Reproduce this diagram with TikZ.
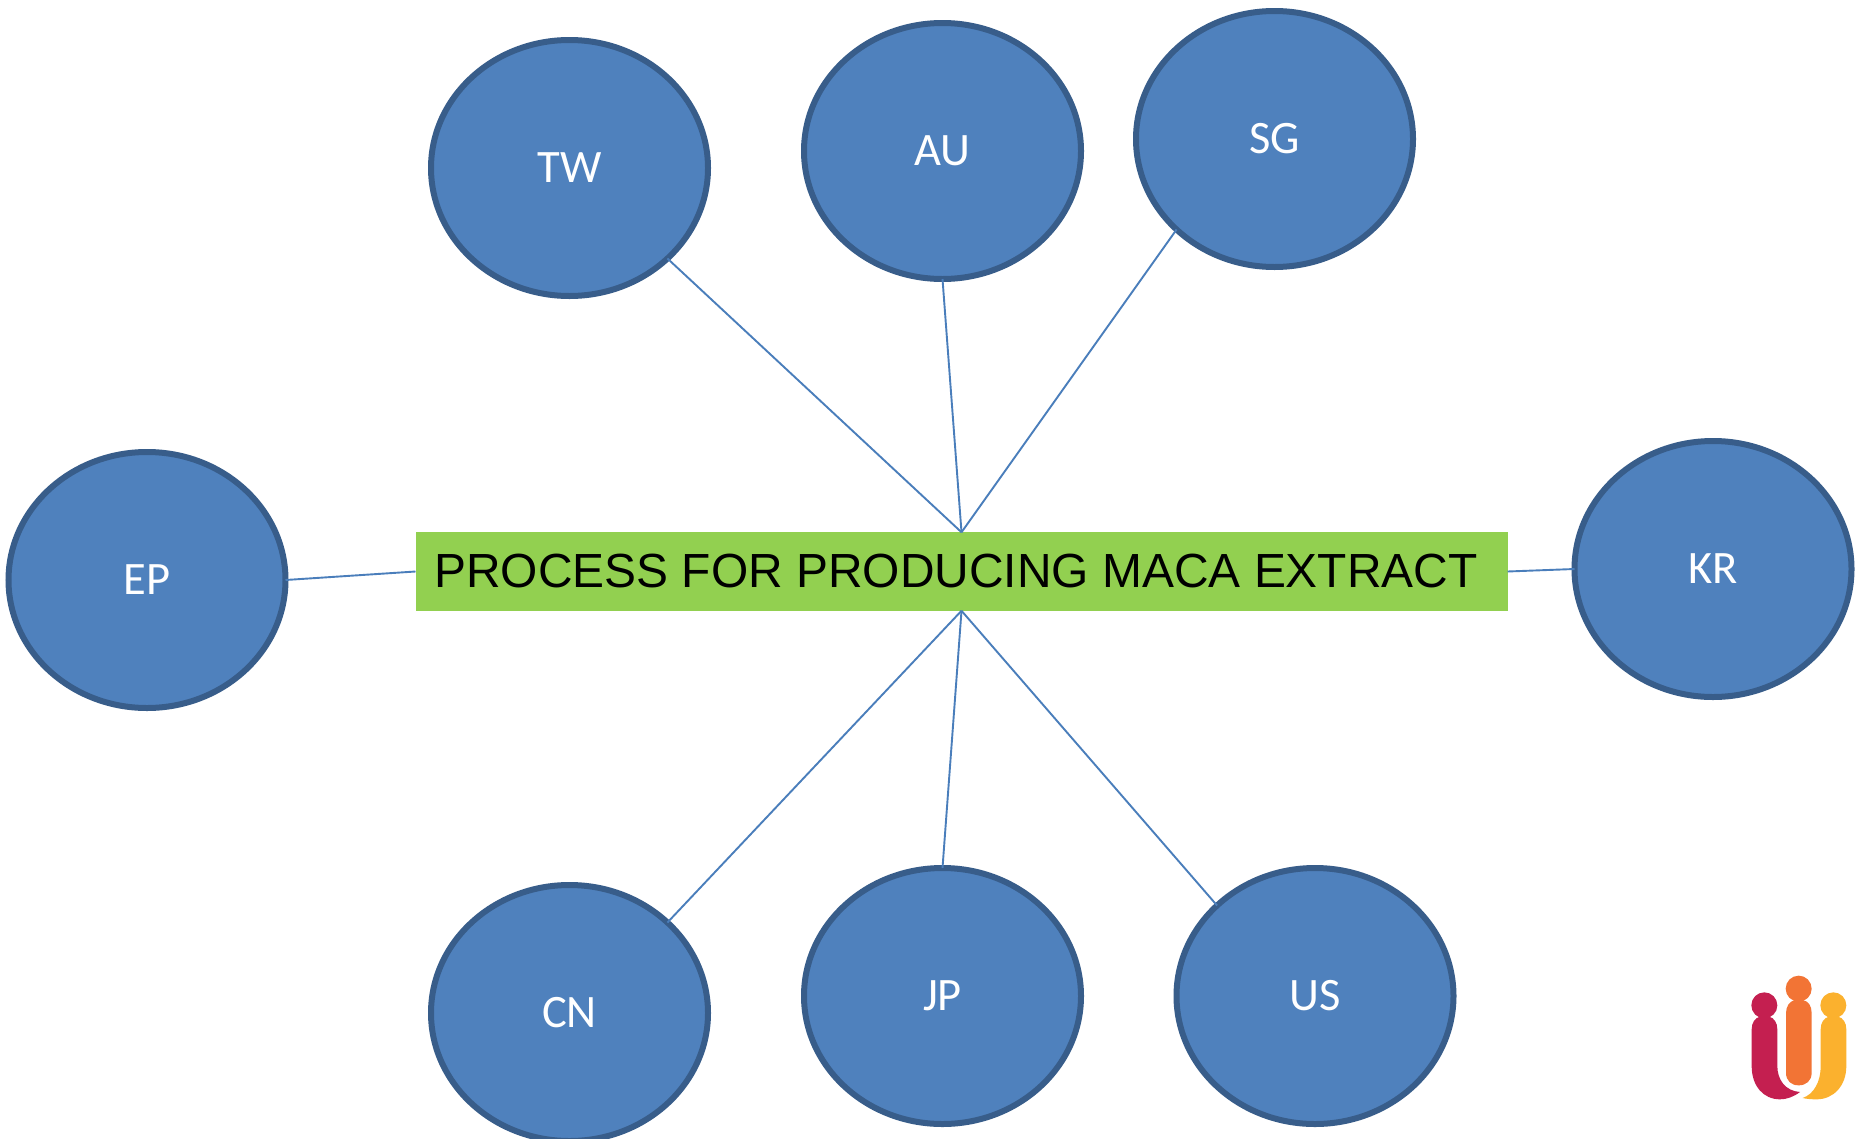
\documentclass[tikz,border=0pt]{standalone}
\usepackage{fontspec}
\setmainfont{Liberation Sans}
\newfontfamily\circfont{Carlito}
\usetikzlibrary{shapes.geometric}
\definecolor{circfill}{HTML}{4F81BD}
\definecolor{circline}{HTML}{385D8A}
\definecolor{linkline}{HTML}{4A7EBB}
\definecolor{titlegreen}{HTML}{92D050}
\definecolor{logored}{HTML}{C41F50}
\definecolor{logoorange}{HTML}{F27435}
\definecolor{logoyellow}{HTML}{FBB12E}
\newcommand{\officelabel}[1]{\raisebox{-3.2pt}{#1}}
\tikzset{
  office/.style={ellipse,draw=circline,fill=circfill,line width=6pt,minimum width=277pt,minimum height=256pt,inner sep=0pt,outer sep=0pt,text=white,font=\circfont\fontsize{46.5}{50}\selectfont},
  titlebox/.style={rectangle,fill=titlegreen,minimum width=1092pt,minimum height=78.5pt,inner sep=0pt,outer sep=0pt,text=black,font=\fontsize{47.9}{56}\selectfont},
  link/.style={draw=linkline,line width=1.9pt}
}
\begin{document}
\begin{tikzpicture}[x=1pt,y=-1pt]
\useasboundingbox[fill=white] (0,0) rectangle (1863,1138);
\node[titlebox] (title) at (961.5,571.5) {\hspace*{-11pt}\raisebox{-3.2pt}{PROCESS FOR PRODUCING MACA EXTRACT}};
\node[office] (tw) at (569.5,168) {\officelabel{TW}};
\node[office] (au) at (942.5,151) {\officelabel{AU}};
\node[office] (sg) at (1274.5,139) {\officelabel{SG}};
\node[office] (ep) at (147,580) {\officelabel{EP}};
\node[office] (kr) at (1713,569) {\officelabel{KR}};
\node[office] (cn) at (569.5,1013) {\officelabel{CN}};
\node[office] (jp) at (942.5,996) {\officelabel{JP}};
\node[office] (us) at (1315,996) {\officelabel{US}};
\draw[link] (tw.south east) -- (title.north);
\draw[link] (au.south) -- (title.north);
\draw[link] (sg.south west) -- (title.north);
\draw[link] (ep.east) -- (title.west);
\draw[link] (kr.west) -- (title.east);
\draw[link] (cn.north east) -- (title.south);
\draw[link] (jp.north) -- (title.south);
\draw[link] (us.north west) -- (title.south);
\begin{scope}[shift={(1700,951)},x=.3333pt,y=-.3333pt]
\fill[logored] (193,163) circle[radius=13pt];
\fill[logoorange] (296,113) circle[radius=13pt];
\fill[logoyellow] (400,163) circle[radius=13pt];
\fill[logored] (155,235) .. controls (155,215) and (165,200) .. (180,197) -- (207,197) .. controls (222,200) and (232,215) .. (232,235)
  -- (232,345) .. controls (232,385) and (255,420) .. (300,423) .. controls (280,438) and (260,445) .. (240,445)
  .. controls (190,445) and (155,405) .. (155,345) -- cycle;
\fill[logoorange] (258,186) .. controls (258,165) and (270,150) .. (283,148) -- (310,148) .. controls (325,150) and (335,165) .. (335,186)
  -- (335,365) .. controls (335,390) and (318,403) .. (296,403) .. controls (274,403) and (258,390) .. (258,365) -- cycle;
\fill[logoyellow] (362,235) .. controls (362,215) and (372,200) .. (387,197) -- (414,197) .. controls (429,200) and (439,215) .. (439,235)
  -- (439,345) .. controls (439,405) and (400,445) .. (350,445) .. controls (335,445) and (320,444) .. (308,441)
  .. controls (340,430) and (362,395) .. (362,345) -- cycle;
\end{scope}
\end{tikzpicture}
\end{document}
